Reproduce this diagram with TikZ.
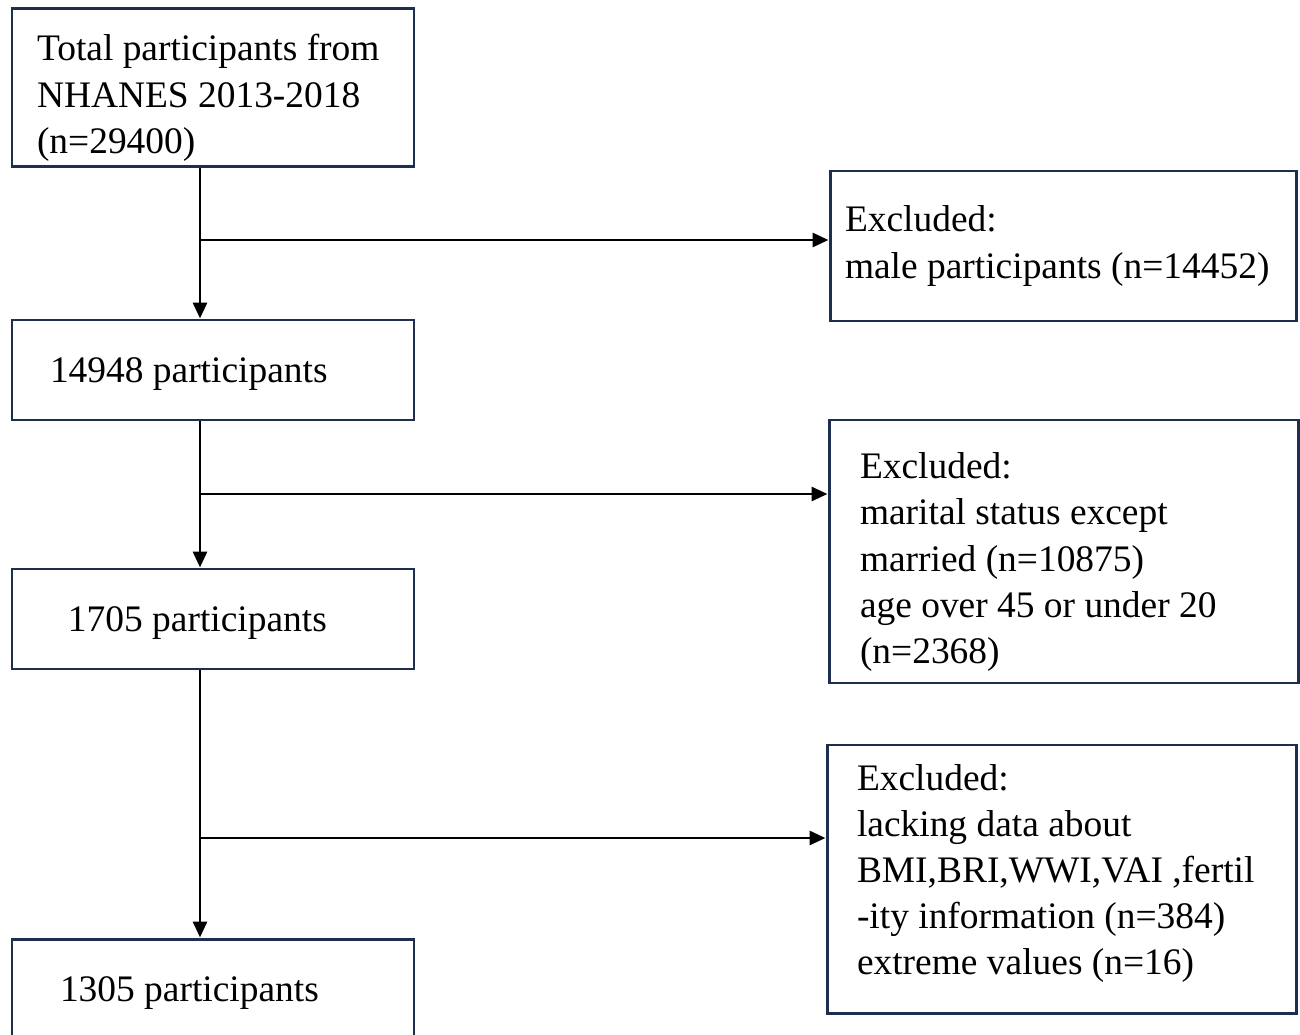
\documentclass[tikz,border=0pt]{standalone}
\usepackage{fontspec}
\setmainfont{Liberation Serif}
\usetikzlibrary{arrows.meta}
\definecolor{boxnavy}{RGB}{30,46,78}

\begin{document}
\begin{tikzpicture}[
        font=\fontsize{21.3}{26.2}\selectfont,
        flowbox/.style={draw=boxnavy, line width=1.7pt, rectangle, align=flush left, inner ysep=0.1cm},
        flowarrow/.style={line width=1.7pt, -{Triangle[length=0.32cm, width=0.28cm]}}
    ]

        % Area del disegno
        \useasboundingbox (0, 0) rectangle (26, -20.7);
        \clip (0, 0) rectangle (26, -20.7);

        % Riquadri a sinistra
        \node[flowbox, minimum width=8.04cm, minimum height=3.10cm, inner xsep=0.50cm, text width=7.04cm, text height=0.94cm] (total) at (4.26, -1.75) {Total participants from \\ NHANES 2013-2018 \\ (n=29400)};
        \node[flowbox, minimum width=8.04cm, minimum height=2.00cm, inner xsep=0.76cm, text width=6.52cm, text depth=0pt] (women) at (4.26, -7.40) {14948 participants};
        \node[flowbox, minimum width=8.04cm, minimum height=2.00cm, inner xsep=1.12cm, text width=5.80cm, text depth=0pt] (married) at (4.26, -12.38) {1705 participants};
        \node[flowbox, minimum width=8.04cm, minimum height=2.00cm, inner xsep=0.96cm, text width=6.12cm, text depth=0pt] (final) at (4.26, -19.78) {1305 participants};

        % Riquadri degli esclusi
        \node[flowbox, minimum width=9.32cm, minimum height=3.00cm, inner xsep=0.30cm, text width=8.72cm] (excl1) at (21.26, -4.92) {Excluded: \\ male participants (n=14452)};
        \node[flowbox, minimum width=9.38cm, minimum height=5.26cm, inner xsep=0.62cm, text width=8.14cm, text height=0.94cm] (excl2) at (21.27, -11.03) {Excluded: \\ marital status except \\ married (n=10875) \\ age over 45 or under 20 \\ (n=2368)};
        \node[flowbox, minimum width=9.38cm, minimum height=5.36cm, inner xsep=0.60cm, text width=8.18cm, text height=0.30cm] (excl3) at (21.23, -17.58) {Excluded: \\ lacking data about \\ BMI,BRI,WWI,VAI ,fertil \\ -ity information (n=384) \\ extreme values (n=16)};

        % Punti di diramazione
        \coordinate (split1) at (4.00, -4.80);
        \coordinate (split2) at (4.00, -9.88);
        \coordinate (split3) at (4.00, -16.76);

        % Frecce verticali
        \draw[flowarrow] (total.south -| split1) -- (women.north -| split1);
        \draw[flowarrow] (women.south -| split2) -- (married.north -| split2);
        \draw[flowarrow] (married.south -| split3) -- (final.north -| split3);

        % Frecce verso gli esclusi
        \draw[flowarrow] (split1) -- (split1 -| excl1.west);
        \draw[flowarrow] (split2) -- (split2 -| excl2.west);
        \draw[flowarrow] (split3) -- (split3 -| excl3.west);

    \end{tikzpicture}
\end{document}
